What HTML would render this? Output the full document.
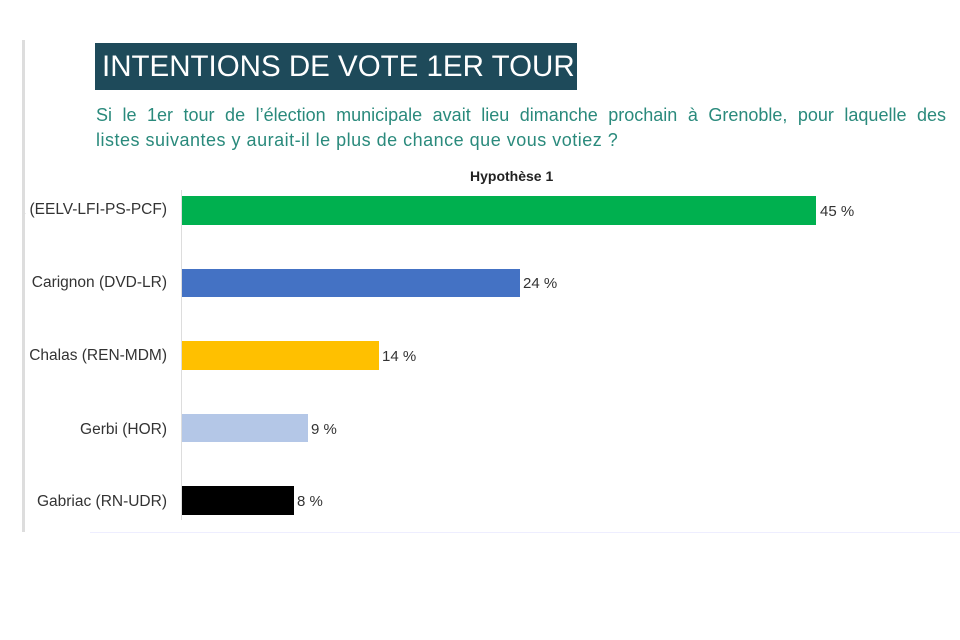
<!DOCTYPE html>
<html><head><meta charset="utf-8"><style>
body{margin:0;width:960px;height:640px;background:#fff;position:relative;overflow:hidden;font-family:"Liberation Sans",sans-serif}
.a{position:absolute}
.lab{position:absolute;left:25px;width:142px;font-size:15.5px;color:#333;white-space:nowrap;overflow:hidden;direction:rtl;text-align:right}
.v{position:absolute;font-size:15px;color:#333}
.b{position:absolute;left:182px}
.s{position:absolute;left:96px;width:850px;color:#2a8a7c;font-size:18px;letter-spacing:0.5px;white-space:nowrap}
</style></head><body>
<div class="a" style="left:22px;top:40px;width:3px;height:492px;background:#ddd"></div>
<div class="a" style="left:95px;top:43px;width:482px;height:47px;background:#1e4a5a;color:#fff;font-size:29.5px;line-height:47px;padding-left:7px;box-sizing:border-box;white-space:nowrap">INTENTIONS DE VOTE 1ER TOUR</div>
<div class="s" style="top:105px;text-align:justify;text-align-last:justify;letter-spacing:0">Si le 1er tour de l’élection municipale avait lieu dimanche prochain à Grenoble, pour laquelle des</div>
<div class="s" style="top:130px">listes suivantes y aurait-il le plus de chance que vous votiez ?</div>
<div class="a" style="left:470px;top:168px;font-size:14px;font-weight:bold;color:#222">Hypothèse 1</div>
<div class="a" style="left:181px;top:190px;width:1px;height:330px;background:#ddd"></div>
<div class="a" style="left:90px;top:532px;width:870px;height:1px;background:#eef"></div>
<div class="lab" style="top:201px">Vénéra (EELV-LFI-PS-PCF)</div>
<div class="b" style="top:196px;width:634px;height:29px;background:#00b04f"></div>
<div class="v" style="left:820px;top:203px">45 %</div>
<div class="lab" style="top:274px">Carignon (DVD-LR)</div>
<div class="b" style="top:269px;width:338px;height:28px;background:#4472c4"></div>
<div class="v" style="left:523px;top:275px">24 %</div>
<div class="lab" style="top:347px">Chalas (REN-MDM)</div>
<div class="b" style="top:341px;width:197px;height:29px;background:#ffc000"></div>
<div class="v" style="left:382px;top:348px">14 %</div>
<div class="lab" style="top:421px">Gerbi (HOR)</div>
<div class="b" style="top:414px;width:126px;height:28px;background:#b4c7e7"></div>
<div class="v" style="left:311px;top:421px">9 %</div>
<div class="lab" style="top:493px">Gabriac (RN-UDR)</div>
<div class="b" style="top:486px;width:112px;height:29px;background:#000"></div>
<div class="v" style="left:297px;top:493px">8 %</div>
</body></html>
